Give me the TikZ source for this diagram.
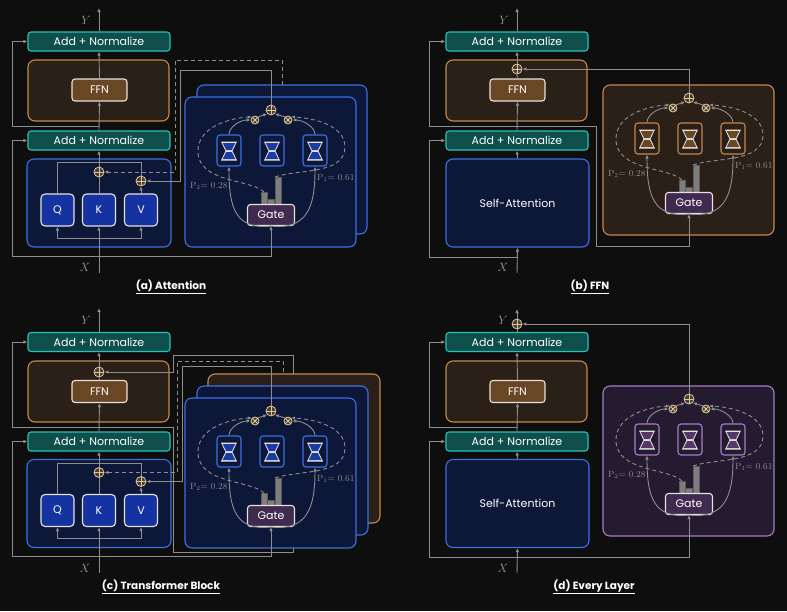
\documentclass[tikz,border=0pt]{standalone}
\usepackage{fontspec}
\newfontfamily\geofont{Poppins}
\usetikzlibrary{arrows.meta}
\definecolor{bgcol}{HTML}{0E0E0E}
\definecolor{anfill}{HTML}{0E4F4C}
\definecolor{anborder}{HTML}{2DBFB3}
\definecolor{ffnfill}{HTML}{2B2017}
\definecolor{ffnborder}{HTML}{C6884D}
\definecolor{ffnmid}{HTML}{694624}
\definecolor{boxwhite}{HTML}{E6E2DE}
\definecolor{attnfill}{HTML}{0D1838}
\definecolor{attnborder}{HTML}{3D6FE3}
\definecolor{qkvfill}{HTML}{1433A0}
\definecolor{gatefill}{HTML}{402A4F}
\definecolor{wiregray}{HTML}{8E8E8E}
\definecolor{axgray}{HTML}{9A9A9A}
\definecolor{opbeige}{HTML}{DCC7A0}
\definecolor{opfill}{HTML}{4A3F2E}
\definecolor{purfill}{HTML}{251B30}
\definecolor{purborder}{HTML}{A77CC6}
\definecolor{purmid}{HTML}{55376A}
\definecolor{hgblue}{HTML}{1A3AA5}
\definecolor{bargray}{HTML}{7D7D7D}
\definecolor{bardark}{HTML}{5A5A5A}

\newcommand{\moepanel}[3]{%
  \node[draw=#2, fill=#1, rounded corners=7pt, line width=1.1pt, minimum width=171pt, minimum height=150pt] (panel) at (85.5,75) {};
  \foreach \i/\ecx in {1/44,2/87,3/130}{%
    \node[expert, draw=#2, fill=#1] (e\i) at (\ecx,53.5) {};
    \fill[boxwhite] (\ecx-8,44.5) -- (\ecx+8,44.5) -- (\ecx+3.5,54) -- (\ecx+8,63.5) -- (\ecx-8,63.5) -- (\ecx-3.5,54) -- cycle;
    \fill[#3] (\ecx-6.3,46) -- (\ecx+6.3,46) -- (\ecx+2.8,53) -- (\ecx-2.8,53) -- cycle;
    \fill[#3] (\ecx-2.8,55) -- (\ecx+2.8,55) -- (\ecx+6.3,62) -- (\ecx-6.3,62) -- cycle;
  }
  \filldraw[bar] (76,95) rectangle (82,107.5);
  \filldraw[bar] (82,102) rectangle (89,107.5);
  \filldraw[bar] (90,80) rectangle (96,107.5);
  \coordinate (barl) at (79,95);
  \coordinate (barr) at (90,80);
  \node[gatebox] (gate) at (86,118) {Gate};
  \node[addop] (sum) at (86,13) {};
  \node[mulop] (mull) at (70,23) {};
  \node[mulop] (mulr) at (103,23) {};
  \node[plabel] (ptwo) at (5,89) {P\textsubscript{2}= 0.28};
  \node[plabel] (pone) at (132,81) {P\textsubscript{1}= 0.61};
  \draw[arr] (e1.north) .. controls (44,30) and (55,23) .. (mull.west);
  \draw[arr] (e3.north) .. controls (130,30) and (118,23) .. (mulr.east);
  \draw[arr] (mull.north east) -- (sum.south west);
  \draw[arr] (mulr.north west) -- (sum.south east);
  \draw[darr] (barl) .. controls (66,82) and (14,86) .. (13,55) .. controls (12,30) and (45,21) .. (mull.north west);
  \draw[darr] (barr) .. controls (112,72) and (160,78) .. (160,50) .. controls (160,28) and (128,21) .. (mulr.north east);
  \draw[arr] (gate.south) .. controls (50,133) and (44,110) .. (e1.south);
  \draw[arr] (gate.south) .. controls (122,133) and (130,110) .. (e3.south);
}

\begin{document}
\begin{tikzpicture}[x=1pt, y=-1pt,
    every node/.append style={inner sep=0pt},
    lbl/.style={font={\geofont\fontsize{11}{13}\selectfont}, text=white},
    addnorm/.style={lbl, draw=anborder, fill=anfill, rounded corners=3pt, line width=1.1pt, minimum width=142pt, minimum height=19pt},
    ffnbg/.style={draw=ffnborder, fill=ffnfill, rounded corners=7pt, line width=1.1pt, minimum width=141pt, minimum height=61pt},
    ffnbox/.style={lbl, draw=boxwhite, fill=ffnmid, rounded corners=3pt, line width=1.1pt, minimum width=55pt, minimum height=22pt},
    attnbg/.style={lbl, draw=attnborder, fill=attnfill, rounded corners=7pt, line width=1.1pt, minimum width=144pt, minimum height=88pt},
    qkv/.style={lbl, draw=boxwhite, fill=qkvfill, rounded corners=4pt, line width=1.1pt, minimum width=33pt, minimum height=32pt},
    expert/.style={rounded corners=3pt, line width=1.1pt, minimum width=24pt, minimum height=31pt},
    gatebox/.style={lbl, draw=boxwhite, fill=gatefill, rounded corners=3pt, line width=1.1pt, minimum width=47pt, minimum height=21pt},
    bar/.style={fill=bargray, draw=bardark, line width=0.5pt},
    wire/.style={draw=wiregray, line width=0.9pt},
    arr/.style={wire, -{Latex[length=4pt,width=3.5pt]}},
    darr/.style={arr, dash pattern=on 4pt off 3pt},
    addop/.style={circle, draw=opbeige, fill=opfill, line width=0.8pt, minimum size=10pt,
      path picture={\draw[opbeige, line width=0.8pt] (path picture bounding box.north) -- (path picture bounding box.south) (path picture bounding box.west) -- (path picture bounding box.east);}},
    mulop/.style={circle, draw=opbeige, fill=opfill, line width=0.8pt, minimum size=8pt,
      path picture={\draw[opbeige, line width=0.8pt] (path picture bounding box.north west) -- (path picture bounding box.south east) (path picture bounding box.south west) -- (path picture bounding box.north east);}},
    plabel/.style={anchor=west, text=wiregray, font=\rmfamily\fontsize{9}{9}\selectfont},
    axlabel/.style={text=axgray, font=\fontsize{12}{12}\selectfont},
    captext/.style={text=white, font={\geofont\bfseries\fontsize{10.5}{12}\selectfont}}]
  \fill[bgcol] (0,0) rectangle (787,611);
  \useasboundingbox (0,0) rectangle (787,611);

  % (a) Attention
  \begin{scope}[name prefix=a-]
    \node[addnorm] (an1) at (99,41.5) {Add + Normalize};
    \node[ffnbg] (ffnbg) at (98.5,90.5) {};
    \node[ffnbox] (ffn) at (99.5,90) {FFN};
    \node[addnorm] (an2) at (99,140.5) {Add + Normalize};
    \node[attnbg] (attn) at (99,203) {};
    \node[qkv] (q) at (57.5,210) {Q};
    \node[qkv] (k) at (99,210) {K};
    \node[qkv] (v) at (141,210) {V};
    \node[addop] (pa) at (99,172) {};
    \node[addop] (pb) at (141,181) {};
    \node[axlabel] (ylab) at (86,20) {$Y$};
    \node[axlabel] (xlab) at (85,267) {$X$};
    \coordinate (ytop) at (99,8);
    \coordinate (xbot) at (99,273);
    \coordinate (fork) at (99,238);
    \coordinate (res1) at (99,256);
    \coordinate (res2) at (99,126);
    \coordinate (bk) at (282,85);
    \draw[darr] (bk) -- ++(0,-25) -- ++(-107,0) |- (pa.east);
    \node[draw=attnborder, fill=attnfill, rounded corners=7pt, line width=1.1pt, minimum width=170pt, minimum height=149pt] (back) at (282,159.5) {};
    \begin{scope}[shift={(185,97)}]
      \moepanel{attnfill}{attnborder}{hgblue}
    \end{scope}
    \draw[arr] (xbot) -- (k.south);
    \draw[arr] (fork) -| (q.south);
    \draw[arr] (fork) -| (v.south);
    \draw[wire] (k.north) -- (pa.south);
    \draw[arr] (pa.north) -- (an2.south);
    \draw[wire] (q.north) -- ++(0,-31) -| (pb.north);
    \draw[arr] (v.north) -- (pb.south);
    \draw[arr] (an2.north) -- (ffn.south);
    \draw[arr] (ffn.north) -- (an1.south);
    \draw[arr] (an1.north) -- (ytop);
    \draw[arr] (res1) -- ++(-87,0) |- (an2.west);
    \draw[arr] (res2) -- ++(-87,0) |- (an1.west);
    \draw[arr] (res1) -| (gate.south);
    \draw[arr] (sum.north) -- ++(0,-34) -- ++(-91,0) |- (pb.east);
  \end{scope}

  % (b) FFN
  \begin{scope}[name prefix=b-, shift={(418,0)}]
    \node[addnorm] (an1) at (99,41.5) {Add + Normalize};
    \node[ffnbg] (ffnbg) at (98.5,90.5) {};
    \node[ffnbox] (ffn) at (99.5,90) {FFN};
    \node[addop] (pf) at (99,69) {};
    \node[addnorm] (an2) at (99,140.5) {Add + Normalize};
    \node[attnbg, minimum width=143pt] (sa) at (99.5,203) {Self-Attention};
    \node[axlabel] (ylab) at (86,20) {$Y$};
    \node[axlabel] (xlab) at (85,267) {$X$};
    \coordinate (ytop) at (99,8);
    \coordinate (xbot) at (99,273);
    \coordinate (res1) at (99,257);
    \coordinate (res2) at (99,126);
    \begin{scope}[shift={(185,85)}]
      \moepanel{ffnfill}{ffnborder}{ffnmid}
    \end{scope}
    \draw[arr] (xbot) -- (sa.south);
    \draw[arr] (sa.north) -- (an2.south);
    \draw[arr] (an2.north) -- (ffn.south);
    \draw[wire] (ffn.north) -- (pf.south);
    \draw[arr] (pf.north) -- (an1.south);
    \draw[arr] (an1.north) -- (ytop);
    \draw[arr] (res1) -- ++(-88,0) |- (an2.west);
    \draw[arr] (res2) -- ++(-88,0) |- (an1.west);
    \draw[arr] (res2) -- ++(79,0) -- ++(0,120) -| (gate.south);
    \draw[arr] (sum.north) |- (pf.east);
  \end{scope}

  % (c) Transformer Block
  \begin{scope}[name prefix=c-, shift={(0,300)}]
    \node[addnorm] (an1) at (99,42) {Add + Normalize};
    \node[ffnbg] (ffnbg) at (98.5,91.5) {};
    \node[ffnbox] (ffn) at (99.5,91.5) {FFN};
    \node[addop] (pf) at (99,72) {};
    \node[addnorm] (an2) at (99,141.5) {Add + Normalize};
    \node[attnbg] (attn) at (99,203.5) {};
    \node[qkv] (q) at (57.5,210.5) {Q};
    \node[qkv] (k) at (99,210.5) {K};
    \node[qkv] (v) at (141,210.5) {V};
    \node[addop] (pa) at (99,172.5) {};
    \node[addop] (pb) at (141,181.5) {};
    \node[axlabel] (ylab) at (86,20) {$Y$};
    \node[axlabel] (xlab) at (85,268) {$X$};
    \coordinate (ytop) at (99,8);
    \coordinate (xbot) at (99,273);
    \coordinate (fork) at (99,238.5);
    \coordinate (res1) at (99,256.5);
    \coordinate (res2) at (99,127);
    \coordinate (bk) at (283,86);
    \draw[arr] (res2) -- ++(74,0) -- ++(0,125) -- ++(120,0) -- ++(0,-197) -- ++(-120,0) |- (pf.east);
    \draw[darr] (bk) -- ++(0,-25) -- ++(-106,0) |- (pa.east);
    \node[draw=ffnborder, fill=ffnfill, rounded corners=7pt, line width=1.1pt, minimum width=172pt, minimum height=149pt] (backo) at (294,148.5) {};
    \node[draw=attnborder, fill=attnfill, rounded corners=7pt, line width=1.1pt, minimum width=171pt, minimum height=149pt] (backb) at (282.5,160.5) {};
    \begin{scope}[shift={(185,98)}]
      \moepanel{attnfill}{attnborder}{hgblue}
    \end{scope}
    \draw[arr] (xbot) -- (k.south);
    \draw[arr] (fork) -| (q.south);
    \draw[arr] (fork) -| (v.south);
    \draw[wire] (k.north) -- (pa.south);
    \draw[arr] (pa.north) -- (an2.south);
    \draw[wire] (q.north) -- ++(0,-31) -| (pb.north);
    \draw[arr] (v.north) -- (pb.south);
    \draw[arr] (an2.north) -- (ffn.south);
    \draw[wire] (ffn.north) -- (pf.south);
    \draw[arr] (pf.north) -- (an1.south);
    \draw[arr] (an1.north) -- (ytop);
    \draw[arr] (res1) -- ++(-87,0) |- (an2.west);
    \draw[arr] (res2) -- ++(-87,0) |- (an1.west);
    \draw[arr] (res1) -| (gate.south);
    \draw[arr] (sum.north) -- ++(0,-39) -- ++(-89,0) |- (pb.east);
  \end{scope}

  % (d) Every Layer
  \begin{scope}[name prefix=d-, shift={(418,300)}]
    \node[addnorm] (an1) at (99,42) {Add + Normalize};
    \node[ffnbg] (ffnbg) at (98.5,91.5) {};
    \node[ffnbox] (ffn) at (99.5,91.5) {FFN};
    \node[addnorm] (an2) at (99,141.5) {Add + Normalize};
    \node[attnbg, minimum width=143pt] (sa) at (99.5,203.5) {Self-Attention};
    \node[addop] (py) at (99,24) {};
    \node[axlabel] (ylab) at (85,20) {$Y$};
    \node[axlabel] (xlab) at (85,268) {$X$};
    \coordinate (ytop) at (99,9);
    \coordinate (xbot) at (99,273);
    \coordinate (res1) at (99,257);
    \coordinate (res2) at (99,127);
    \begin{scope}[shift={(185,86)}]
      \moepanel{purfill}{purborder}{purmid}
    \end{scope}
    \draw[arr] (xbot) -- (sa.south);
    \draw[arr] (sa.north) -- (an2.south);
    \draw[arr] (an2.north) -- (ffn.south);
    \draw[arr] (ffn.north) -- (an1.south);
    \draw[wire] (an1.north) -- (py.south);
    \draw[arr] (py.north) -- (ytop);
    \draw[arr] (res1) -- ++(-88,0) |- (an2.west);
    \draw[arr] (res2) -- ++(-88,0) |- (an1.west);
    \draw[arr] (res1) -| (gate.south);
    \draw[arr] (sum.north) |- (py.east);
  \end{scope}

  \node[captext] (capa) at (171,287) {\underline{(a) Attention}};
  \node[captext] (capb) at (590,287) {\underline{(b) FFN}};
  \node[captext] (capc) at (161,587) {\underline{(c) Transformer Block}};
  \node[captext] (capd) at (594,587) {\underline{(d) Every Layer}};
\end{tikzpicture}
\end{document}
